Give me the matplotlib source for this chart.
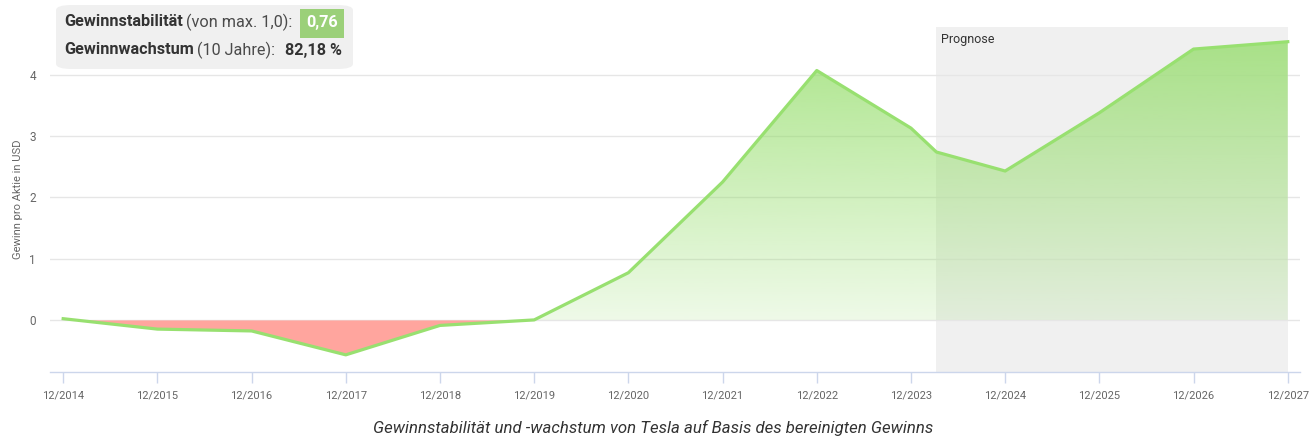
import numpy as np
import matplotlib.pyplot as plt
from matplotlib.patches import FancyBboxPatch, Rectangle

plt.rcParams['font.family'] = ['Roboto', 'DejaVu Sans']

# Gewinn pro Aktie (bereinigt), Tesla
x_pos = [0, 1, 2, 3, 4, 5, 6, 7, 8, 9, 9.27, 10, 11, 12, 13]
eps = [0.02, -0.15, -0.18, -0.57, -0.09, 0.0, 0.77, 2.25, 4.07, 3.13, 2.74, 2.43, 3.38, 4.42, 4.54]
tick_pos = list(range(14))
tick_labels = ['12/%d' % y for y in range(2014, 2028)]
forecast_start = 9.27
forecast_end = 13

x = np.array(x_pos)
y = np.array(eps)

fig = plt.figure(figsize=(13.09, 4.37), dpi=100)
ax = fig.add_axes([50 / 1309, 65 / 437, 1250 / 1309, 345 / 437])

# Prognose-Bereich
ax.axvspan(forecast_start, forecast_end, color='#f0f0f0', zorder=0, lw=0)
ax.text(forecast_start + 0.05, 4.57, 'Prognose', fontsize=9, color='#333333', va='center', ha='left')

# Gitterlinien
for v in range(5):
    ax.axhline(v, color='#e6e6e6', lw=1, zorder=1)

# positive Fläche mit Verlauf
pos = ax.fill_between(x, y, 0, where=y >= 0, interpolate=True, color='none', lw=0, zorder=2)
grad = np.zeros((256, 1, 4))
grad[:, 0, 0] = 144 / 255
grad[:, 0, 1] = 220 / 255
grad[:, 0, 2] = 100 / 255
grad[:, 0, 3] = np.linspace(0.15, 0.75, 256)
for p in pos.get_paths():
    img = ax.imshow(grad, aspect='auto', origin='lower', extent=(-0.14, 13.13, 0, 4.6), zorder=2)
    img.set_clip_path(p, transform=ax.transData)

# negative Fläche
ax.fill_between(x, y, 0, where=y <= 0, interpolate=True, color='#ffa59e', lw=0, zorder=2)

ax.plot(x, y, color='#98e070', lw=2.3, zorder=3, solid_joinstyle='round')
ax.set_xlim(-0.14, 13.13)
ax.set_ylim(-0.85, 4.78)

# Achsen
for s in ['left', 'right', 'top']:
    ax.spines[s].set_visible(False)
ax.spines['bottom'].set_color('#ccd6eb')
ax.spines['bottom'].set_linewidth(1)
ax.set_xticks(tick_pos)
ax.set_xticklabels(tick_labels)
ax.tick_params(axis='x', colors='#ccd6eb', length=8, width=1, labelsize=8, labelcolor='#666666', pad=5)
ax.set_yticks(range(5))
ax.tick_params(axis='y', length=0, labelsize=8.5, labelcolor='#666666', pad=10)
ax.set_ylabel('Gewinn pro Aktie in USD', fontsize=8, color='#666666', labelpad=5)

# Infobox
fig.patches.append(FancyBboxPatch((56 / 1309, 1 - 69 / 437), 297 / 1309, 64 / 437,
                                  boxstyle='round,pad=0,rounding_size=0.012', transform=fig.transFigure,
                                  fc='#f0f0f0', ec='none', zorder=5))
fig.patches.append(Rectangle((300 / 1309, 1 - 38 / 437), 44 / 1309, 29 / 437, transform=fig.transFigure,
                             fc='#9bd079', ec='none', zorder=6))

fig.canvas.draw()
r = fig.canvas.get_renderer()


def put(xpx, ypx, s, color='#333333', **kw):
    t = fig.text(xpx / 1309, 1 - ypx / 437, s, va='center', ha='left', fontsize=11.7, color=color, zorder=7, **kw)
    bb = t.get_window_extent(renderer=r)
    return xpx + bb.width


xe = put(64, 22, 'Gewinnstabilität', fontweight='bold')
put(xe + 3, 22, '(von max. 1,0):', color='#4a4a4a')
fig.text(322 / 1309, 1 - 22 / 437, '0,76', va='center', ha='center', fontsize=11.7, fontweight='bold',
         color='white', zorder=8)
xe = put(64, 50, 'Gewinnwachstum', fontweight='bold')
xe = put(xe + 3, 50, '(10 Jahre):', color='#4a4a4a')
put(xe + 10, 50, '82,18 %', fontweight='bold')

fig.text(653 / 1309, 1 - 428 / 437, 'Gewinnstabilität und -wachstum von Tesla auf Basis des bereinigten Gewinns',
         ha='center', va='center', fontsize=12.1, fontstyle='italic', color='#333333')

fig.savefig('out.png', dpi=100)
